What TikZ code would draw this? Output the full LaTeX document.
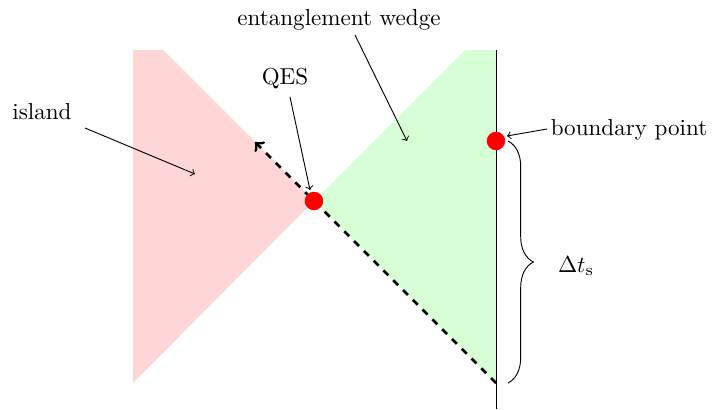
\documentclass[tikz,border=0pt]{standalone}
\usetikzlibrary{decorations.pathreplacing}
\begin{document}
\begin{tikzpicture}[x=0.4335pt,y=-0.4335pt,
  lbl/.style={inner sep=0pt},
  ann/.style={->},
  dot/.style={circle,fill=red,inner sep=0pt,minimum size=8pt}]
\useasboundingbox (0,0) rectangle (719,409);
% regions
\fill[red!16] (133,50) -- (163,50) -- (314,201) -- (133,383) -- cycle;
\fill[green!16] (314,201) -- (465,50) -- (496,50) -- (496,383) -- cycle;
% boundary line
\coordinate (btop) at (496,50);
\coordinate (bbot) at (496,409);
\draw (btop) -- (bbot);
% dashed
\coordinate (dstart) at (496,383);
\coordinate (dend) at (255,142);
\draw[very thick,dashed,->] (dstart) -- (dend);
% dots
\node[dot] (qes) at (314,201) {};
\node[dot] (bp) at (496,141) {};
% labels
\node[lbl] (ewl) at (339,20) {entanglement wedge};
\node[lbl] (qesl) at (285,79) {QES};
\node[lbl] (isl) at (42,112) {island};
\node[lbl] (bpl) at (629,130) {boundary point};
\node[lbl] (dtl) at (576,266) {$\Delta t_{\mathrm{s}}$};
% annotation arrows
\coordinate (ews) at (355,35);
\coordinate (ewt) at (407,141);
\draw[ann] (ews) -- (ewt);
\coordinate (qs) at (290,97);
\coordinate (qt) at (310,190);
\draw[ann] (qs) -- (qt);
\coordinate (is) at (85,128);
\coordinate (it) at (195,174);
\draw[ann] (is) -- (it);
\coordinate (bs) at (547,129);
\coordinate (bt) at (507,136);
\draw[ann] (bs) -- (bt);
% brace
\coordinate (brt) at (508,141);
\coordinate (brb) at (508,383);
\draw[decorate,decoration={brace,amplitude=11pt}] (brt) -- (brb);
\end{tikzpicture}
\end{document}
